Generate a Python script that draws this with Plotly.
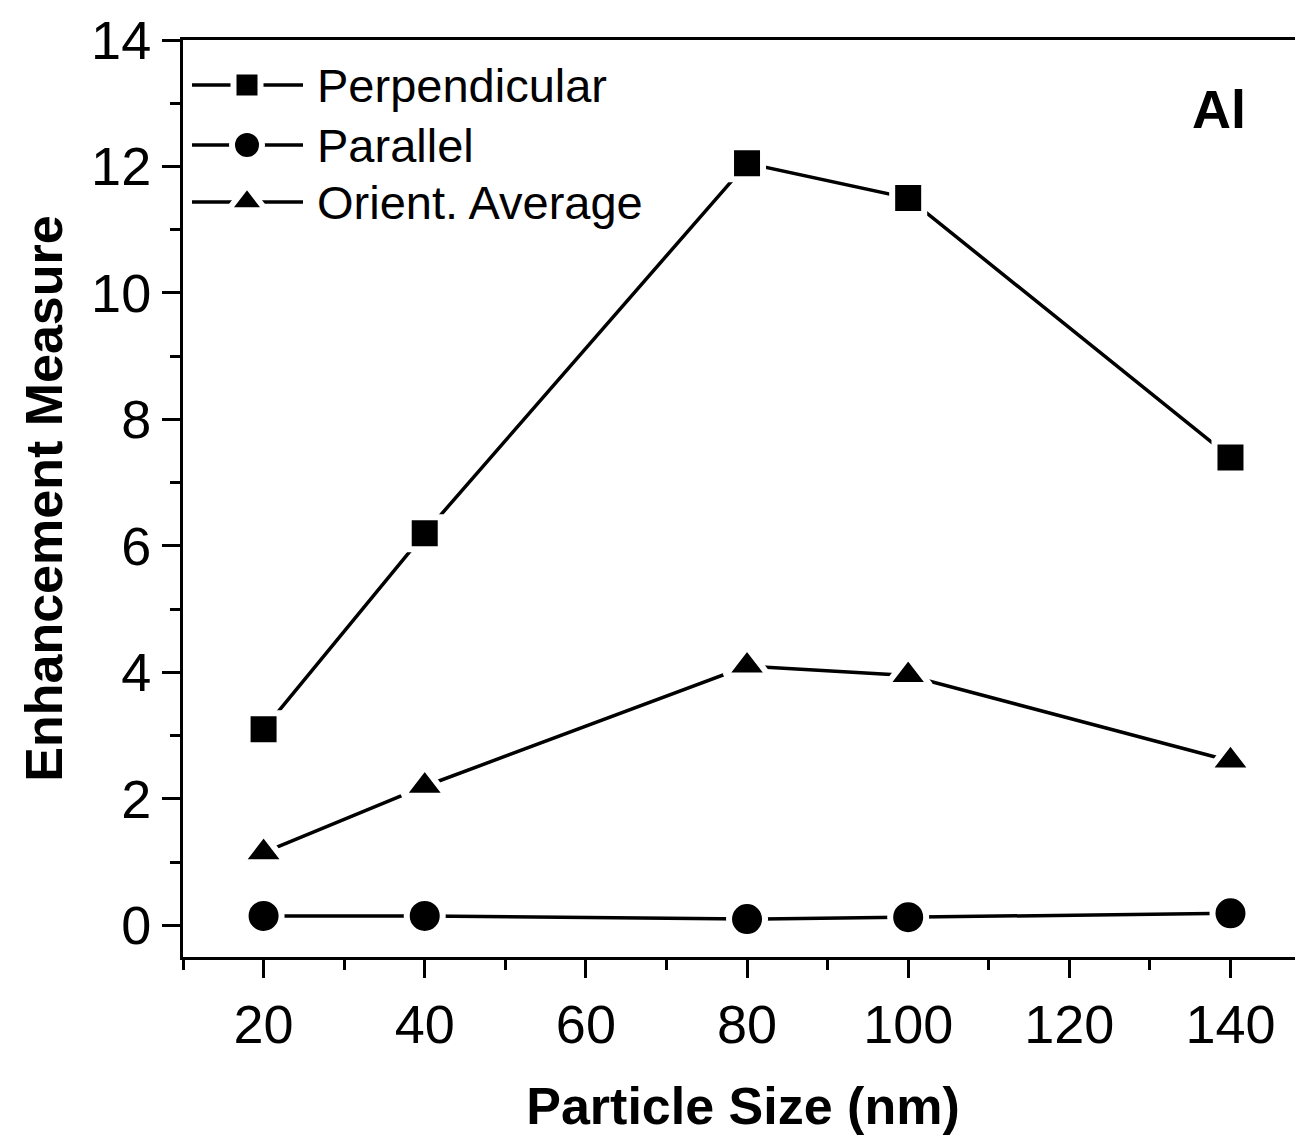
import plotly.graph_objects as go

# ---- data ----
particle_size = [20, 40, 80, 100, 140]
perpendicular = [3.1, 6.2, 12.05, 11.5, 7.4]
parallel = [0.15, 0.15, 0.1, 0.13, 0.19]
orient_average = [1.15, 2.2, 4.1, 3.95, 2.6]

series_names = ["Perpendicular", "Parallel", "Orient. Average"]
series_values = [perpendicular, parallel, orient_average]
series_symbols = ["square", "circle", "triangle-up"]
series_sizes = [32, 36, 38]

x_ticks = [20, 40, 60, 80, 100, 120, 140]
y_ticks = [0, 2, 4, 6, 8, 10, 12, 14]

FONT = "Liberation Sans, Arial, sans-serif"

fig = go.Figure()

for name, vals, sym, sz in zip(series_names, series_values, series_symbols, series_sizes):
    fig.add_trace(go.Scatter(
        x=particle_size, y=vals, mode="lines+markers", name=name,
        line=dict(color="black", width=3.5),
        marker=dict(symbol=sym, size=sz, color="black",
                    line=dict(color="white", width=6)),
        showlegend=False, cliponaxis=False,
    ))

# ---- custom legend (pixel-like overlay axes) ----
leg_rows = [45, 105, 162]
leg_marker_sizes = [27, 30, 33]
for name, sym, row, msz in zip(series_names, series_symbols, leg_rows, leg_marker_sizes):
    fig.add_trace(go.Scatter(
        x=[9, 120], y=[row, row], mode="lines", xaxis="x2", yaxis="y2",
        line=dict(color="black", width=3.5), showlegend=False, hoverinfo="skip"))
    fig.add_trace(go.Scatter(
        x=[64], y=[row], mode="markers", xaxis="x2", yaxis="y2",
        marker=dict(symbol=sym, size=msz, color="black",
                    line=dict(color="white", width=6)),
        showlegend=False, hoverinfo="skip"))
    fig.add_annotation(x=132, y=row, xref="x2", yref="y2", text=name,
                       showarrow=False, xanchor="left", yanchor="middle",
                       font=dict(family=FONT, size=47, color="black"))

fig.add_annotation(x=0.925, y=0.925, xref="paper", yref="paper", text="<b>Al</b>",
                   showarrow=False, xanchor="center", yanchor="middle",
                   font=dict(family=FONT, size=54, color="black"))

fig.update_layout(
    width=1295, height=1127,
    margin=dict(l=175, r=0, t=32, b=178),
    plot_bgcolor="white", paper_bgcolor="white",
    font=dict(family=FONT, color="black"),
    xaxis=dict(
        range=[10, 149], tickmode="array", tickvals=x_ticks,
        ticks="outside", ticklen=18, tickwidth=3, tickcolor="black",
        minor=dict(dtick=10, tick0=0, ticks="outside", ticklen=10, tickwidth=3, tickcolor="black"),
        showline=True, linecolor="black", linewidth=3, mirror=True,
        showgrid=False, zeroline=False, automargin=False,
        tickfont=dict(size=54, family=FONT),
        title=dict(text="<b>Particle Size (nm)</b>", font=dict(size=52, family=FONT), standoff=35),
    ),
    yaxis=dict(
        range=[-0.5, 14], tickmode="array", tickvals=y_ticks,
        ticks="outside", ticklen=18, tickwidth=3, tickcolor="black",
        minor=dict(dtick=1, tick0=0, ticks="outside", ticklen=10, tickwidth=3, tickcolor="black"),
        showline=True, linecolor="black", linewidth=3, mirror=False,
        showgrid=False, zeroline=False, automargin=False,
        tickfont=dict(size=54, family=FONT),
        title=dict(text="<b>Enhancement Measure</b>", font=dict(size=52, family=FONT), standoff=12),
    ),
    xaxis2=dict(overlaying="x", range=[0, 1120], visible=False, fixedrange=True),
    yaxis2=dict(overlaying="y", range=[917, 0], visible=False, fixedrange=True),
)

fig.write_html("out.html")
